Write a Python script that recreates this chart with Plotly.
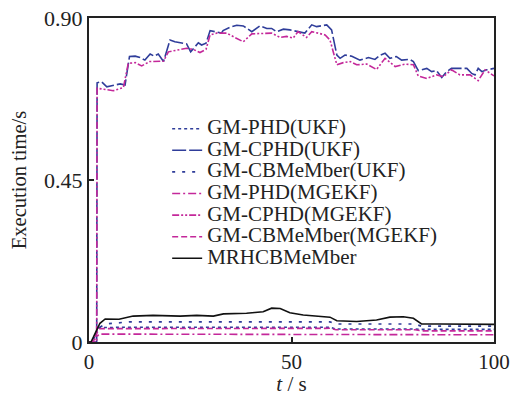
import plotly.graph_objects as go

# ---------------- data ----------------
t_cphd_ukf = [0, 1.9, 2, 3.1, 4.4, 7.7, 8.9, 10, 11.4, 12.6, 13.8, 15.1, 16.1, 17.1, 18.4, 20, 21.2,
              24.1, 25.1, 27, 27.8, 28.9, 29.9, 31.5, 32.7, 33.1, 34.8, 36.5, 38.1, 40.2, 42.2, 43.9,
              45.1, 46.3, 48, 49.6, 52.1, 53.3, 55, 56.2, 58.7, 59.9, 61.2, 62, 63.2, 64.9, 66.9, 69,
              70.6, 71.9, 73.1, 74.3, 75.9, 77.2, 79.2, 80.1, 81.3, 83.4, 84.6, 85.8, 87.1, 88.3, 89.5,
              91.2, 93.3, 94.5, 95.3, 96.1, 97, 98.2, 100]
v_cphd_ukf = [0, 0, 0.720, 0.723, 0.709, 0.717, 0.714, 0.793, 0.794, 0.790, 0.783, 0.800, 0.794, 0.800,
              0.779, 0.839, 0.834, 0.828, 0.806, 0.831, 0.825, 0.830, 0.865, 0.862, 0.858, 0.865, 0.874,
              0.880, 0.878, 0.862, 0.878, 0.871, 0.871, 0.862, 0.869, 0.867, 0.862, 0.858, 0.881, 0.876,
              0.881, 0.867, 0.797, 0.788, 0.797, 0.794, 0.783, 0.790, 0.785, 0.797, 0.802, 0.788, 0.793,
              0.783, 0.785, 0.779, 0.754, 0.760, 0.751, 0.754, 0.735, 0.751, 0.760, 0.760, 0.760, 0.746,
              0.742, 0.760, 0.751, 0.756, 0.760]

t_cphd_mgekf = [0, 1.9, 2, 6, 8.5, 9.7, 11.4, 13, 15, 16.7, 18.4, 19.6, 21.6, 24.1, 25.7, 27.4, 28.9,
                29.9, 31.5, 34, 36, 38.1, 40.2, 42.7, 45.1, 47.2, 48.8, 50.4, 51.6, 53.7, 55, 56.6, 58.3,
                59.5, 61.2, 62.8, 64.5, 66.1, 68.6, 71, 73.1, 75.6, 78.1, 80.1, 81.3, 83.4, 85.8, 87.5,
                89.5, 91.6, 94.1, 96.1, 97.8, 100]
v_cphd_mgekf = [0, 0, 0.705, 0.698, 0.707, 0.774, 0.776, 0.767, 0.779, 0.780, 0.780, 0.806, 0.811, 0.816,
                0.813, 0.804, 0.813, 0.853, 0.858, 0.858, 0.846, 0.834, 0.856, 0.858, 0.858, 0.846, 0.849,
                0.844, 0.862, 0.846, 0.862, 0.858, 0.853, 0.839, 0.770, 0.776, 0.779, 0.770, 0.772, 0.757,
                0.788, 0.765, 0.772, 0.770, 0.739, 0.732, 0.742, 0.737, 0.756, 0.742, 0.742, 0.726, 0.756,
                0.739]

t_mrh = [0, 0.5, 1.9, 2.7, 4, 7.4, 10.9, 15.8, 22.5, 26.6, 30.7, 33.2, 38.9, 43, 45.1, 47.2, 49.6, 52.9,
         59.5, 61.2, 66.1, 71, 74.3, 77.6, 80.1, 82.1, 86.6, 91, 95, 100]
v_mrh = [0, 0, 0.033, 0.052, 0.064, 0.063, 0.072, 0.074, 0.072, 0.074, 0.072, 0.078, 0.080, 0.084, 0.094,
         0.093, 0.081, 0.075, 0.069, 0.059, 0.057, 0.061, 0.069, 0.070, 0.066, 0.050, 0.050, 0.050, 0.049,
         0.049]

t_cbm_ukf = [0, 0.8, 2.5, 4, 10, 30, 50, 59.5, 61, 75, 80.5, 82, 100]
v_cbm_ukf = [0, 0, 0.040, 0.050, 0.056, 0.056, 0.056, 0.056, 0.050, 0.051, 0.050, 0.044, 0.044]

t_phd_ukf = [0, 0.8, 2.5, 10, 59.5, 61, 80.5, 82, 100]
v_phd_ukf = [0, 0, 0.040, 0.041, 0.041, 0.036, 0.036, 0.035, 0.035]

t_cbm_mgekf = [0, 0.8, 2.5, 59.5, 61, 80.5, 82, 100]
v_cbm_mgekf = [0, 0, 0.037, 0.038, 0.034, 0.034, 0.031, 0.031]

t_phd_mgekf = [0, 0.8, 2.5, 59.5, 61, 100]
v_phd_mgekf = [0, 0, 0.022, 0.022, 0.020, 0.020]

x_ticks = [0, 50, 100]
y_ticks = [0, 0.45, 0.90]
y_tick_labels = ["0", "0.45", "0.90"]

# ---------------- styling ----------------
BLUE = "#2f3d9a"
MAG = "#c4289a"
INK = "#222222"
FONT = "Liberation Serif"
LEG_TEXT_SIZE = 21

series = [
    ("GM-PHD(UKF)", t_phd_ukf, v_phd_ukf, BLUE, "dot", 1.6),
    ("GM-CPHD(UKF)", t_cphd_ukf, v_cphd_ukf, BLUE, "14px,3px", 1.6),
    ("GM-CBMeMber(UKF)", t_cbm_ukf, v_cbm_ukf, BLUE, "3px,7px", 1.7),
    ("GM-PHD(MGEKF)", t_phd_mgekf, v_phd_mgekf, MAG, "8px,3px,2px,3px", 1.6),
    ("GM-CPHD(MGEKF)", t_cphd_mgekf, v_cphd_mgekf, MAG, "7px,2px,2px,2px,2px,2px", 1.6),
    ("GM-CBMeMber(MGEKF)", t_cbm_mgekf, v_cbm_mgekf, MAG, "6px,3px", 1.6),
    ("MRHCBMeMber", t_mrh, v_mrh, "#111111", "solid", 1.6),
]

fig = go.Figure()
for name, t, v, col, dash, w in series:
    fig.add_trace(go.Scatter(
        x=t, y=v, mode="lines",
        name=f'<span style="font-size:{LEG_TEXT_SIZE}px">{name}</span>',
        line=dict(color=col, dash=dash, width=w)))

axis_common = dict(showgrid=False, zeroline=False, showline=True, linecolor=INK,
                   linewidth=2, mirror=True, ticks="inside", ticklen=5, tickcolor=INK,
                   tickwidth=1.5, ticklabeloverflow="allow")

fig.update_layout(
    width=510, height=396,
    margin=dict(l=89, r=16, t=18, b=54, autoexpand=False),
    paper_bgcolor="white", plot_bgcolor="white",
    font=dict(family=FONT, color=INK),
    showlegend=True,
    legend=dict(x=0.193, y=0.707, xanchor="left", yanchor="top",
                bgcolor="rgba(0,0,0,0)", borderwidth=0,
                font=dict(family=FONT, size=14.3, color=INK),
                tracegroupgap=0),
    xaxis=dict(range=[0, 100], tickvals=x_ticks, **axis_common,
               tickfont=dict(family=FONT, size=21, color=INK),
               title=dict(text="<i>t</i> / s", font=dict(family=FONT, size=21, color=INK),
                          standoff=9)),
    yaxis=dict(range=[0, 0.90], tickvals=y_ticks, ticktext=y_tick_labels, **axis_common,
               tickfont=dict(family=FONT, size=22, color=INK),
               title=dict(text="Execution time/s", font=dict(family=FONT, size=20.5, color=INK),
                          standoff=12)),
)

# remove the page's default body margin so the 510x396 figure fills the window exactly
fig.write_html("out.html", config={"displayModeBar": False},
               post_script="document.body.style.margin='0px';")
